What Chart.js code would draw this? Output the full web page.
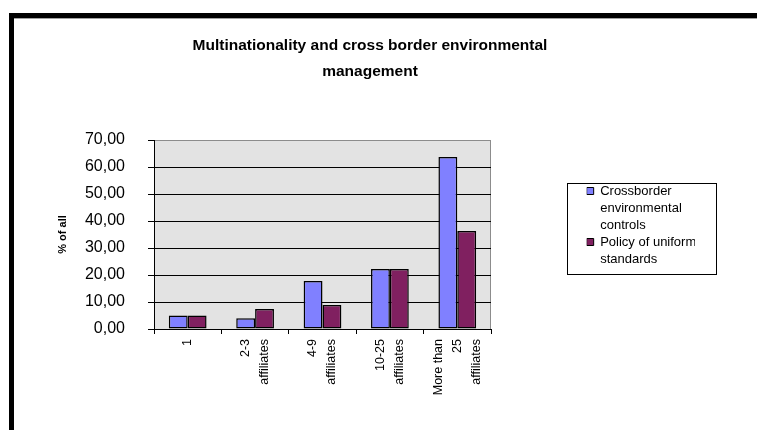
<!DOCTYPE html>
<html>
<head>
<meta charset="utf-8">
<script src="https://cdn.jsdelivr.net/npm/chart.js@4/dist/chart.umd.min.js"></script>
<style>
  html, body { margin: 0; padding: 0; background: #fff; overflow: hidden; }
  #frame {
    position: absolute; left: 9px; top: 13px;
    width: 743px; height: 412px;
    border-top: 5px solid #000; border-left: 5px solid #000;
  }
  #frame::after {
    content: ''; position: absolute; left: 0; top: 0; width: 100%; height: 1px; background: #a0a0a0;
  }
  #canvas1 { display: block; }
</style>
</head>
<body>
<div id="frame"><canvas id="canvas1" width="743" height="412"></canvas></div>
<script>
// data
var categories = [['1'], ['2-3', 'affiliates'], ['4-9', 'affiliates'], ['10-25', 'affiliates'], ['More than', '25', 'affiliates']];
var seriesNames = ['Crossborder environmental controls', 'Policy of uniform standards'];
var legendLines = [['Crossborder', 'environmental', 'controls'], ['Policy of uniform', 'standards']];
var crossborder = [5.0, 4.0, 17.8, 22.2, 63.7];
var uniformPolicy = [5.0, 7.4, 8.9, 22.2, 36.3];
var yTicks = [0, 10, 20, 30, 40, 50, 60, 70];

var FONT = '"Liberation Sans", Arial, sans-serif';
var PAD_L = 31, PAD_R = 62, PAD_T = 6, PLOT_RIGHT = 477;

// grey plot background + grey top/right frame
var plotBg = {
    id: 'plotBg',
    beforeDraw: function (chart) {
        var a = chart.chartArea, ctx = chart.ctx;
        ctx.save();
        ctx.fillStyle = '#e3e3e3';
        ctx.fillRect(a.left, a.top, a.right - a.left, a.bottom - a.top);
        ctx.strokeStyle = '#8c8c8c';
        ctx.lineWidth = 1;
        ctx.beginPath();
        ctx.moveTo(a.left, a.top + 0.5);
        ctx.lineTo(a.right - 0.5, a.top + 0.5);
        ctx.lineTo(a.right - 0.5, a.bottom);
        ctx.stroke();
        ctx.restore();
    }
};

// category labels, rotated, lines centred on the tick
var xLabels = {
    id: 'xLabels',
    afterDraw: function (chart) {
        var sc = chart.scales.x, ctx = chart.ctx;
        var lh = 19;
        ctx.save();
        ctx.font = '12.5px ' + FONT;
        ctx.fillStyle = '#000';
        ctx.textAlign = 'right';
        ctx.textBaseline = 'middle';
        categories.forEach(function (lines, i) {
            var cx = sc.getPixelForTick(i);
            lines.forEach(function (txt, j) {
                ctx.save();
                ctx.translate(cx + (j - (lines.length - 1) / 2) * lh, sc.top + 10);
                ctx.rotate(-Math.PI / 2);
                ctx.fillText(txt, 0, 0);
                ctx.restore();
            });
        });
        ctx.restore();
    }
};

// box round the legend
var legendBox = {
    id: 'legendBox',
    afterDraw: function (chart) {
        var lg = chart.legend;
        if (!lg || !lg.legendHitBoxes.length) return;
        var hb = lg.legendHitBoxes;
        var l = Math.min.apply(null, hb.map(function (h) { return h.left; }));
        var t = Math.min.apply(null, hb.map(function (h) { return h.top; }));
        var b = Math.max.apply(null, hb.map(function (h) { return h.top + h.height; }));
        var x0 = Math.round(l - 20), y0 = Math.round(t - 2);
        var x1 = Math.round(chart.width - 41), y1 = Math.round(b + 4);
        var ctx = chart.ctx;
        ctx.save();
        ctx.strokeStyle = '#000';
        ctx.lineWidth = 1;
        ctx.strokeRect(x0 + 0.5, y0 + 0.5, x1 - x0, y1 - y0);
        ctx.restore();
    }
};

var ctx = document.getElementById('canvas1').getContext('2d');
var chart = new Chart(ctx, {
    type: 'bar',
    data: {
        labels: categories,
        datasets: [{
            label: seriesNames[0],
            data: crossborder,
            backgroundColor: '#8080ff',
            borderColor: '#000',
            borderWidth: 1.5,
            borderSkipped: false,
            yAxisID: 'y'
        }, {
            label: seriesNames[1],
            data: uniformPolicy,
            backgroundColor: '#802060',
            borderColor: '#000',
            borderWidth: 1.5,
            borderSkipped: false,
            yAxisID: 'y'
        }]
    },
    options: {
        responsive: false,
        animation: false,
        devicePixelRatio: 1,
        categoryPercentage: 0.56,
        barPercentage: 1.0,
        layout: { padding: { left: PAD_L, right: PAD_R, top: PAD_T, bottom: 0 } },
        plugins: {
            title: {
                display: true,
                text: ['Multinationality and cross border environmental', 'management'],
                color: '#000',
                font: { family: FONT, size: 15.5, weight: 'bold', lineHeight: 26 / 15.5 },
                padding: { top: 15 - PAD_T, bottom: 55 }
            },
            legend: {
                position: 'right',
                labels: {
                    color: '#000',
                    boxWidth: 7,
                    boxHeight: 7,
                    padding: 0,
                    font: { family: FONT, size: 13, lineHeight: 17 / 13 },
                    generateLabels: function (c) {
                        var items = Chart.defaults.plugins.legend.labels.generateLabels(c);
                        items.forEach(function (it, i) { it.text = legendLines[i]; it.lineWidth = 1; });
                        return items;
                    }
                },
                onClick: null
            },
            tooltip: { enabled: false }
        },
        scales: {
            x: {
                grid: { display: true, drawOnChartArea: false, drawTicks: true, tickLength: 5, tickColor: '#000', offset: true },
                border: { display: true, color: '#000', width: 1 },
                ticks: { display: false },
                afterFit: function (s) { s.height = 101; }
            },
            y: {
                min: 0,
                max: 70,
                afterBuildTicks: function (s) { s.ticks = yTicks.map(function (v) { return { value: v }; }); },
                grid: {
                    color: function (c) { return c.tick && c.tick.value === 70 ? '#8c8c8c' : '#000'; },
                    tickColor: '#000',
                    tickLength: 6,
                    lineWidth: 1
                },
                border: { display: true, color: '#000', width: 1 },
                ticks: {
                    color: '#000',
                    padding: 23,
                    font: { family: FONT, size: 16 },
                    callback: function (v) { return v.toFixed(2).replace('.', ','); }
                },
                title: {
                    display: true,
                    text: '% of all',
                    color: '#000',
                    font: { family: FONT, size: 11, weight: 'bold' },
                    padding: { top: 11, bottom: 0 }
                },
                afterFit: function (s) { s.width = 140 - PAD_L; }
            },
            yGap: {
                type: 'linear',
                position: 'right',
                display: true,
                grid: { display: false, drawTicks: false },
                border: { display: false },
                ticks: { display: false },
                afterFit: function (s) {
                    var lw = s.chart.legend ? s.chart.legend.width : 120;
                    s.width = Math.max(0, s.chart.width - PAD_R - PLOT_RIGHT - lw);
                }
            }
        }
    },
    plugins: [plotBg, xLabels, legendBox]
});
</script>
</body>
</html>
